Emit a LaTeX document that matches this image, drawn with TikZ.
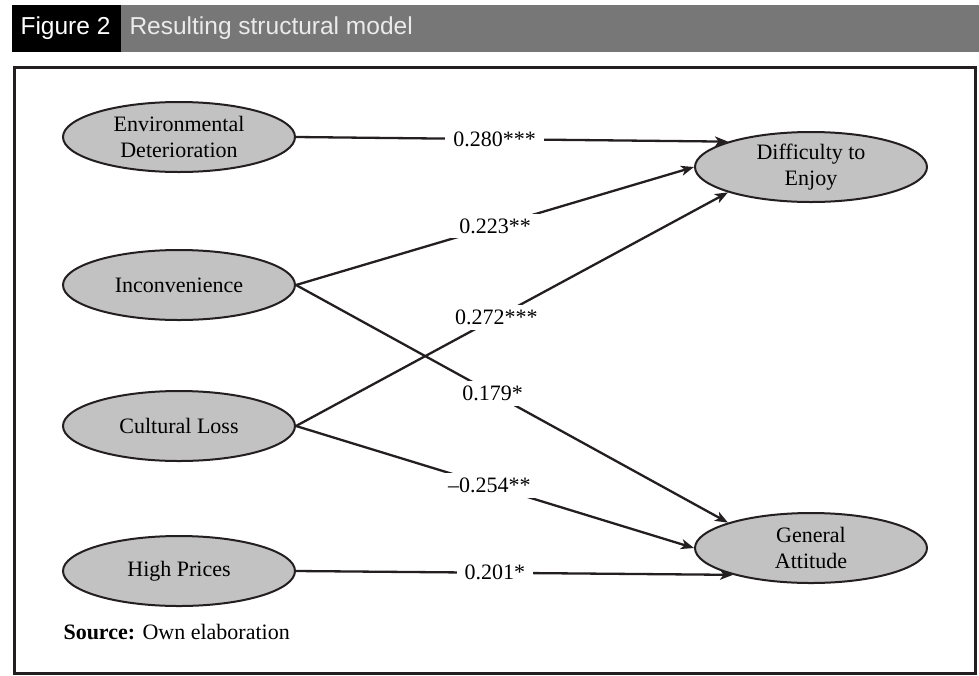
\documentclass[tikz,border=0pt]{standalone}
\usepackage{fontspec}
\setmainfont{Liberation Serif}
\newfontfamily\headfont{Liberation Sans}
\usepackage{xcolor}
\usepackage{tikz}
\usetikzlibrary{shapes,arrows.meta,positioning,calc}

\definecolor{ovalgray}{HTML}{C2C2C2}
\definecolor{bargray}{HTML}{777777}
\definecolor{inkline}{HTML}{231F20}

\begin{document}
\begin{tikzpicture}[x=1pt, y=-1pt,
    latent/.style={ellipse, draw=inkline, line width=2pt, fill=ovalgray,
        minimum width=232pt, minimum height=70pt, inner sep=0pt,
        align=center, font=\fontsize{22}{25.5}\selectfont},
    path/.style={draw=inkline, line width=2.3pt,
        -{Stealth[length=13pt,width=10pt,inset=3.5pt]}},
    coef/.style={fill=white, inner xsep=8pt, inner ysep=5pt, font=\fontsize{22}{25}\selectfont}]
\useasboundingbox (0,0) rectangle (979,675);

% title bar
\fill[black] (12,5) rectangle (121,52);
\fill[bargray] (121,5) rectangle (979,52);
\node[anchor=west, text=white, font=\headfont\fontsize{24.5}{28}\selectfont] (fig) at (17,28) {Figure 2};
\node[anchor=west, text=white!92!black, font=\headfont\fontsize{24.5}{28}\selectfont] (title) at (126,28) {Resulting structural model};

% frame
\draw[inkline, line width=3pt] (14,67) rectangle (975,673);

% constructs
\node[latent] (env) at (179,137) {Environmental\\Deterioration};
\node[latent] (inc) at (179,285) {Inconvenience};
\node[latent] (cul) at (179,426) {Cultural Loss};
\node[latent] (hip) at (179,571) {High Prices};
\node[latent] (dif) at (811,167) {Difficulty to\\Enjoy};
\node[latent] (gen) at (811,548) {General\\Attitude};

% paths
\draw[path] (env.east) -- node[coef, pos=0.46] {0.280***} (dif.163);
\draw[path] (inc.east) -- node[coef, pos=0.50] {0.223**} (dif.west);
\draw[path] (inc.east) -- node[coef, pos=0.455] {0.179*} (gen.163);
\draw[path] (cul.east) -- node[coef, pos=0.464] {0.272***} (dif.197);
\draw[path] (cul.east) -- node[coef, pos=0.486] {--0.254**} (gen.west);
\draw[path] (hip.east) -- node[coef, pos=0.455] {0.201*} (gen.199);

\node[anchor=base west, font=\fontsize{22}{25}\selectfont] (src) at (60,639) {\textbf{Source:} Own elaboration};
\end{tikzpicture}
\end{document}
